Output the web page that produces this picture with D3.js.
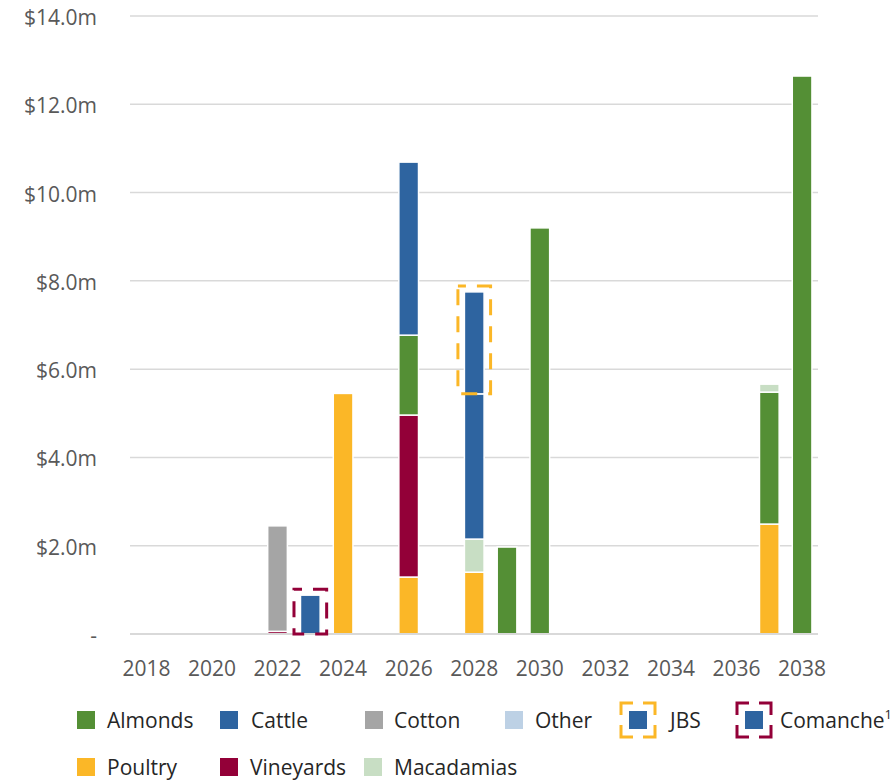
<!DOCTYPE html>
<html>
<head>
<meta charset="utf-8">
<script src="https://cdn.jsdelivr.net/npm/d3@7"></script>
<style>
  html, body { margin: 0; padding: 0; background: #fff; }
  svg { display: block; font-family: "Open Sans", "Noto Sans", sans-serif; }
</style>
</head>
<body>
<svg id="chart" width="893" height="782"></svg>
<script>
// ---------- data ($m) ----------
const years = [2018, 2019, 2020, 2021, 2022, 2023, 2024, 2025, 2026, 2027, 2028,
               2029, 2030, 2031, 2032, 2033, 2034, 2035, 2036, 2037, 2038];
const tickYears = [2018, 2020, 2022, 2024, 2026, 2028, 2030, 2032, 2034, 2036, 2038];
const yTicks = [0, 2, 4, 6, 8, 10, 12, 14];
const yTickLabels = ["-", "$2.0m", "$4.0m", "$6.0m", "$8.0m", "$10.0m", "$12.0m", "$14.0m"];

const barYears   = [2022, 2023, 2024, 2026, 2028, 2029, 2030, 2037, 2038];
const poultry    = [0,    0,    5.45, 1.29, 1.40, 0,    0,    2.49, 0    ];
const vineyards  = [0.06, 0,    0,    3.67, 0,    0,    0,    0,    0    ];
const cotton     = [2.39, 0,    0,    0,    0,    0,    0,    0,    0    ];
const almonds    = [0,    0,    0,    1.81, 0,    1.97, 9.20, 2.99, 12.64];
const macadamias = [0,    0,    0,    0,    0.75, 0,    0,    0.18, 0    ];
const cattle     = [0,    0,    0,    3.92, 3.29, 0,    0,    0,    0    ];
const other      = [0,    0,    0,    0,    0,    0,    0,    0,    0    ];
const jbs        = [0,    0,    0,    0,    2.31, 0,    0,    0,    0    ];
const comanche   = [0,    0.88, 0,    0,    0,    0,    0,    0,    0    ];

const seriesKeys   = ["Poultry", "Vineyards", "Cotton", "Almonds", "Macadamias", "Cattle", "Other", "JBS", "Comanche"];
const seriesValues = [poultry, vineyards, cotton, almonds, macadamias, cattle, other, jbs, comanche];
const colors = {
  Almonds: "#548F35", Cattle: "#2E64A0", Cotton: "#A5A5A5", Other: "#BDD1E5",
  Poultry: "#FBB727", Vineyards: "#930038", Macadamias: "#C8DEC4",
  JBS: "#2E64A0", Comanche: "#2E64A0"
};
const boxColors = { JBS: "#FBB727", Comanche: "#930038" };

const legendRow1 = ["Almonds", "Cattle", "Cotton", "Other", "JBS", "Comanche"];
const legendRow2 = ["Poultry", "Vineyards", "Macadamias"];

// ---------- build table ----------
const table = barYears.map((yr, i) => {
  const row = { year: yr };
  seriesKeys.forEach((k, j) => { row[k] = seriesValues[j][i]; });
  return row;
});
const stacked = d3.stack().keys(seriesKeys)(table);

// ---------- scales ----------
const svg = d3.select("#chart");
const x = d3.scaleBand().domain(years).range([130, 818.5]).paddingInner(0.4).paddingOuter(0.2);
const y = d3.scaleLinear().domain([0, 14]).range([634, 16]);

// gridlines
svg.append("g").selectAll("line").data(yTicks.filter(d => d > 0)).join("line")
  .attr("x1", 130).attr("x2", 818)
  .attr("y1", d => y(d)).attr("y2", d => y(d))
  .attr("stroke", "#D9D9D9").attr("stroke-width", 1.5);

// y labels
svg.append("g").selectAll("text").data(yTicks).join("text")
  .attr("x", 97).attr("y", d => y(d) + 1)
  .attr("text-anchor", "end").attr("dominant-baseline", "central")
  .attr("fill", "#595959").attr("font-size", 21)
  .text((d, i) => yTickLabels[i]);

// bars
const gBars = svg.append("g");
stacked.forEach(s => {
  gBars.append("g").selectAll("rect")
    .data(s.filter(d => d[1] - d[0] > 0))
    .join("rect")
    .attr("x", d => x(d.data.year))
    .attr("width", x.bandwidth())
    .attr("y", d => y(d[1]))
    .attr("height", d => y(d[0]) - y(d[1]))
    .attr("fill", colors[s.key])
    .attr("stroke", "#fff").attr("stroke-width", 1.5);
});

// x axis line
svg.append("line").attr("x1", 130).attr("x2", 818).attr("y1", y(0)).attr("y2", y(0))
  .attr("stroke", "#D9D9D9").attr("stroke-width", 2);

// dashed highlight boxes around JBS and Comanche segments
["JBS", "Comanche"].forEach(k => {
  const s = stacked.find(t => t.key === k);
  s.filter(d => d[1] - d[0] > 0).forEach(d => {
    const x0 = x(d.data.year) - 6.5, w = x.bandwidth() + 13;
    const y0 = y(d[1]) - 6, h = y(d[0]) - y(d[1]) + 6;
    svg.append("rect")
      .attr("x", x0).attr("y", y0).attr("width", w).attr("height", h)
      .attr("fill", "none").attr("stroke", boxColors[k]).attr("stroke-width", 3)
      .attr("stroke-dasharray", "16 11").attr("stroke-dashoffset", 8);
  });
});

// x labels
svg.append("g").selectAll("text").data(tickYears).join("text")
  .attr("x", d => x(d) + x.bandwidth() / 2).attr("y", 668)
  .attr("text-anchor", "middle").attr("dominant-baseline", "central")
  .attr("fill", "#595959").attr("font-size", 21)
  .text(d => d);

// ---------- legend ----------
const legendPos1 = [77, 220, 365, 505, 629, 745];
const legendText1 = [107, 251, 394, 535, 670, 780];
const legendPos2 = [77, 220, 364];
const legendText2 = [107, 250, 394];

function legendItem(key, sx, tx, cy) {
  const g = svg.append("g");
  g.append("rect").attr("x", sx).attr("y", cy - 9).attr("width", 18).attr("height", 18)
    .attr("fill", colors[key]);
  if (boxColors[key]) {
    g.append("rect").attr("x", sx - 8).attr("y", cy - 17).attr("width", 34).attr("height", 34)
      .attr("fill", "none").attr("stroke", boxColors[key]).attr("stroke-width", 3)
      .attr("stroke-dasharray", "24 10").attr("stroke-dashoffset", 12);
  }
  const t = g.append("text").attr("x", tx).attr("y", cy)
    .attr("dominant-baseline", "central").attr("fill", "#262626").attr("font-size", 21)
    .text(key);
  if (key === "Comanche") {
    t.append("tspan").attr("font-size", 13).attr("dy", -6).text("1");
  }
}
legendRow1.forEach((k, i) => legendItem(k, legendPos1[i], legendText1[i], 720));
legendRow2.forEach((k, i) => legendItem(k, legendPos2[i], legendText2[i], 767));
</script>
</body>
</html>
